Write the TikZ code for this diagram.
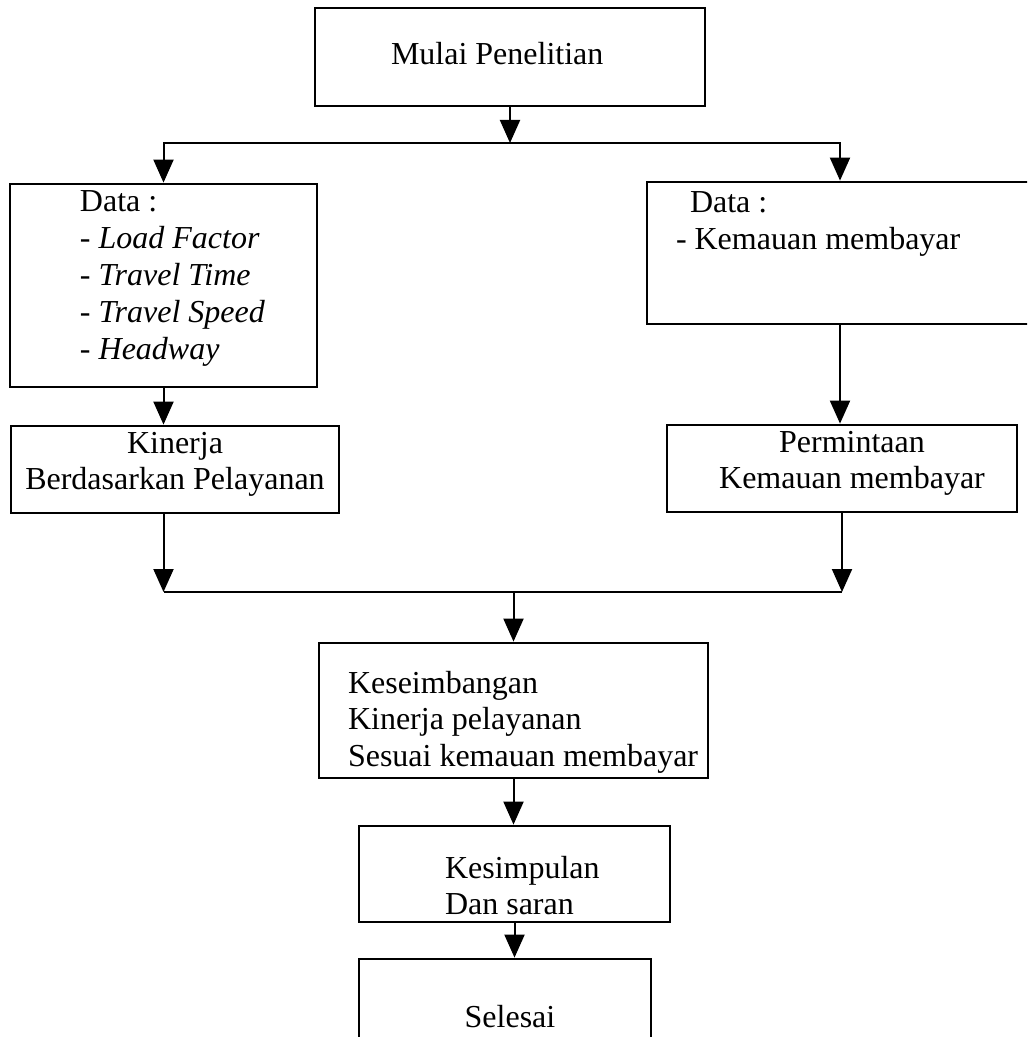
\documentclass[tikz,border=0pt]{standalone}
\usepackage{fontspec}
\setmainfont{Liberation Serif}
\usetikzlibrary{arrows.meta}
\newcommand{\bxl}[5]{\parbox[c][#2][t]{#1}{\vspace*{#3}\raggedright\setlength{\leftskip}{#4}\rule{0pt}{12pt}#5}}
\newcommand{\bxc}[4]{\parbox[c][#2][t]{#1}{\vspace*{#3}\centering\rule{0pt}{12pt}#4}}
\begin{document}
\begin{tikzpicture}[x=0.5pt,y=-0.5pt,
  fbox/.style={draw,line width=1.4pt,inner sep=0pt,font=\fontsize{16}{18.4}\selectfont},
  conn/.style={line width=1pt},
  arr/.style={conn,-{Triangle[width=10pt,length=11.5pt]}}]
\useasboundingbox (0,0) rectangle (1027,1037);
\clip (0,0) rectangle (1027,1037);

\node[fbox] (mulai) at (510,57) {\bxl{195pt}{49pt}{16.5pt}{38pt}{Mulai Penelitian}};
\node[fbox] (dataL) at (163.5,285.5) {\bxl{153.5pt}{101.5pt}{2pt}{35pt}{Data :\\- \textit{Load Factor}\\- \textit{Travel Time}\\- \textit{Travel Speed}\\- \textit{Headway}}};
\node[fbox] (dataR) at (840,253) {\bxl{193pt}{71pt}{3.5pt}{14.5pt}{\hspace*{7pt}Data :\\- Kemauan membayar}};
\node[fbox] (kin) at (175,469.5) {\bxc{164pt}{43.5pt}{1.5pt}{Kinerja\\Berdasarkan Pelayanan}};
\node[fbox] (perm) at (842,468.5) {\bxc{175pt}{43.5pt}{1.5pt}{\hspace*{10pt}Permintaan\\\hspace*{10pt}Kemauan membayar}};
\node[fbox] (kes) at (513.5,710.5) {\bxl{194.5pt}{67.5pt}{13pt}{14.5pt}{Keseimbangan\\Kinerja pelayanan\\Sesuai kemauan membayar}};
\node[fbox] (simp) at (514.5,874) {\bxl{155.5pt}{48pt}{14pt}{43pt}{Kesimpulan\\Dan saran}};
\node[fbox] (sel) at (505,1015) {\bxc{146pt}{56pt}{22pt}{\hspace*{5pt}Selesai}};

\coordinate (split) at (510,143);
\coordinate (join) at (514,592);

\draw[arr] (mulai.south) -- (mulai.south |- split);
\draw[arr] (split) -| (dataL.north);
\draw[arr] (split) -| (dataR.north);
\draw[arr] (dataL.south) -- (dataL.south |- kin.north);
\draw[arr] (dataR.south) -- (dataR.south |- perm.north);
\draw[arr] (kin.south -| dataL.south) -- (dataL.south |- join);
\draw[arr] (perm.south) -- (perm.south |- join);
\draw[conn] (dataL.south |- join) -- (perm.south |- join);
\draw[arr] (kes.north |- join) -- (kes.north);
\draw[arr] (kes.south) -- (kes.south |- simp.north);
\draw[arr] (simp.south) -- (simp.south |- sel.north);
\end{tikzpicture}
\end{document}
